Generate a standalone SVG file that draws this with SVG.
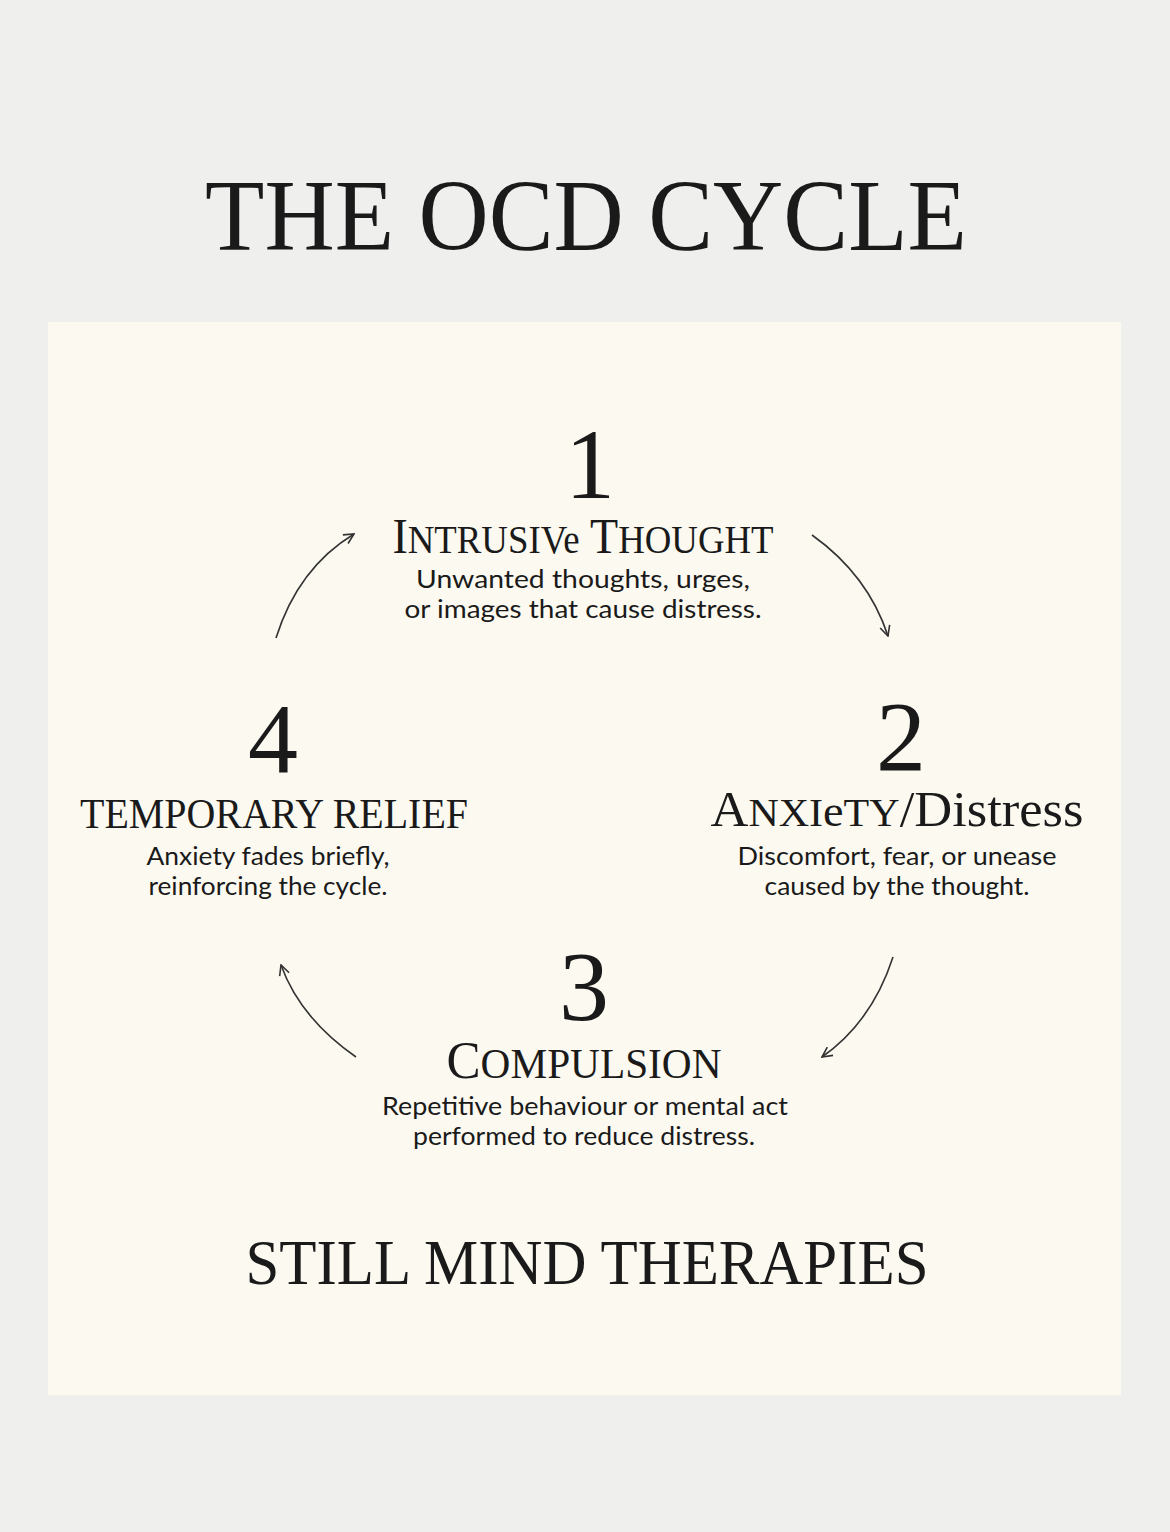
<svg xmlns="http://www.w3.org/2000/svg" width="1170" height="1532" viewBox="0 0 1170 1532">
<defs>
<style>
.serif{font-family:"Liberation Serif","DejaVu Serif",serif;fill:#1a1a1a}
.num{font-family:"Liberation Serif","DejaVu Serif",serif;font-size:100px;fill:#1a1a1a;text-anchor:middle}
.head{font-family:"Liberation Serif","DejaVu Serif",serif;fill:#1a1a1a;text-anchor:middle}
.desc{font-family:"Lato","Open Sans","Liberation Sans",sans-serif;font-size:25px;fill:#1a1a1a;text-anchor:middle}
.arc{fill:none;stroke:#333;stroke-width:1.6}
</style>
<marker id="ah" viewBox="0 0 12 12" refX="11" refY="6" markerWidth="12" markerHeight="12" markerUnits="userSpaceOnUse" orient="auto">
<path d="M1,1 L11,6 L1,11" fill="none" stroke="#333" stroke-width="1.6"/>
</marker>
</defs>
<rect x="0" y="0" width="1170" height="1532" fill="#efefed"/>
<rect x="48" y="322" width="1073" height="1073" fill="#fbf9f0"/>
<text id="title" class="head" x="586" y="250" font-size="101" textLength="762" lengthAdjust="spacingAndGlyphs">THE OCD CYCLE</text>

<g id="node1">
<text class="num" x="590" y="498">1</text>
<text class="head" x="583" y="553" font-size="50" textLength="381" lengthAdjust="spacingAndGlyphs">I<tspan font-size="40">NTRUSIV</tspan><tspan font-size="40">e</tspan> T<tspan font-size="40">HOUGHT</tspan></text>
<text class="desc" x="583" y="588" textLength="334" lengthAdjust="spacingAndGlyphs">Unwanted thoughts, urges,</text>
<text class="desc" x="583" y="618" textLength="357" lengthAdjust="spacingAndGlyphs">or images that cause distress.</text>
</g>

<g id="node2">
<text class="num" x="901" y="770">2</text>
<text class="head" x="897" y="826" font-size="50" textLength="373" lengthAdjust="spacingAndGlyphs">A<tspan font-size="40">NXI</tspan><tspan font-size="44">e</tspan><tspan font-size="40">TY</tspan>/Distress</text>
<text class="desc" x="897" y="865" textLength="319" lengthAdjust="spacingAndGlyphs">Discomfort, fear, or unease</text>
<text class="desc" x="897" y="895" textLength="265" lengthAdjust="spacingAndGlyphs">caused by the thought.</text>
</g>

<g id="node3">
<text class="num" x="584" y="1020">3</text>
<text class="head" x="584" y="1078" font-size="52" textLength="275" lengthAdjust="spacingAndGlyphs">C<tspan font-size="42">OMPULSION</tspan></text>
<text class="desc" x="585" y="1115" textLength="406" lengthAdjust="spacingAndGlyphs">Repetitive behaviour or mental act</text>
<text class="desc" x="584" y="1145" textLength="342" lengthAdjust="spacingAndGlyphs">performed to reduce distress.</text>
</g>

<g id="node4">
<text class="num" x="273" y="772">4</text>
<text class="head" x="274" y="828" font-size="42" textLength="388" lengthAdjust="spacingAndGlyphs">TEMPORARY RELIEF</text>
<text class="desc" x="268" y="865" textLength="243" lengthAdjust="spacingAndGlyphs">Anxiety fades briefly,</text>
<text class="desc" x="268" y="895" textLength="239" lengthAdjust="spacingAndGlyphs">reinforcing the cycle.</text>
</g>

<g id="connectors">
<path class="arc" d="M812,535 Q868,575 888,636" marker-end="url(#ah)"/>
<path class="arc" d="M893,957 Q872,1022 822,1057" marker-end="url(#ah)"/>
<path class="arc" d="M356,1057 Q300,1018 281,965" marker-end="url(#ah)"/>
<path class="arc" d="M276,638 Q298,568 354,534" marker-end="url(#ah)"/>
</g>

<text id="footer" class="head" x="587" y="1284" font-size="64" textLength="683" lengthAdjust="spacingAndGlyphs">STILL MIND THERAPIES</text>
</svg>
